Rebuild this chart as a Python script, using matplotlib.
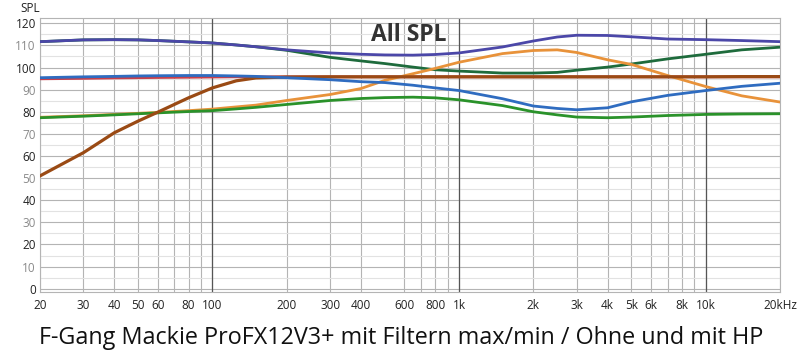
import matplotlib
matplotlib.use("Agg")
import matplotlib.pyplot as plt
from matplotlib.ticker import FixedLocator, NullFormatter

plt.rcParams['font.family'] = ['Open Sans', 'DejaVu Sans']

# frequency points (Hz)
freq = [20, 30, 40, 50, 60, 80, 100, 125, 150, 200, 300, 400, 500, 650, 800,
        1000, 1500, 2000, 2500, 3000, 4000, 5000, 7000, 10000, 14000, 20000]

purple = [111.7, 112.5, 112.6, 112.5, 112.2, 111.6, 111.1, 110.2, 109.4, 108.0, 106.6, 106.0, 105.7,
          105.6, 105.9, 106.6, 109.3, 112.0, 113.8, 114.6, 114.5, 113.9, 112.9, 112.6, 112.2, 111.7]
dark_green = [111.7, 112.5, 112.6, 112.5, 112.2, 111.6, 111.1, 110.2, 109.4, 107.8, 104.6, 103.0, 101.8,
              100.2, 99.0, 98.4, 97.5, 97.5, 97.8, 98.8, 100.2, 101.6, 103.9, 106.0, 108.0, 109.2]
blue = [95.4, 95.8, 96.0, 96.2, 96.3, 96.4, 96.4, 96.2, 96.0, 95.4, 94.5, 93.6, 93.2,
        92.0, 90.8, 89.6, 85.9, 82.6, 81.5, 80.9, 81.8, 84.5, 87.4, 89.6, 91.5, 92.9]
red = [94.9, 95.1, 95.3, 95.4, 95.5, 95.6, 95.7, 95.8, 95.8, 95.8, 95.8, 95.8, 95.8,
       95.8, 95.8, 95.8, 95.8, 95.8, 95.8, 95.8, 95.8, 95.8, 95.8, 95.8, 95.8, 95.8]
brown = [51.0, 61.5, 70.5, 75.8, 79.8, 86.3, 90.8, 94.0, 95.3, 95.7, 95.8, 95.8, 95.8,
         95.8, 95.8, 95.8, 95.8, 95.8, 95.8, 95.8, 95.8, 95.8, 95.8, 95.8, 95.9, 95.9]
orange = [77.5, 78.2, 78.8, 79.3, 79.7, 80.5, 81.2, 82.2, 83.0, 85.1, 87.8, 90.5, 94.2,
          97.2, 99.6, 102.4, 106.3, 107.7, 108.0, 106.8, 103.5, 101.4, 96.4, 91.4, 87.2, 84.4]
light_green = [77.3, 78.0, 78.6, 79.1, 79.5, 80.1, 80.5, 81.3, 82.0, 83.3, 85.1, 86.0, 86.4,
               86.6, 86.3, 85.4, 82.8, 80.0, 78.6, 77.6, 77.3, 77.6, 78.3, 78.8, 79.0, 79.1]

xticks = [20, 30, 40, 50, 60, 80, 100, 200, 300, 400, 600, 800, 1000,
          2000, 3000, 4000, 5000, 6000, 8000, 10000, 20000]
xlabels = ['20', '30', '40', '50', '60', '80', '100', '200', '300', '400', '600', '800', '1k',
           '2k', '3k', '4k', '5k', '6k', '8k', '10k', '20kHz']
xminor = [70, 90, 700, 900, 7000, 9000]
yticks = list(range(0, 121, 10))

fig = plt.figure(figsize=(8, 3.59), dpi=100)
ax = fig.add_axes([40 / 800, 1 - 292 / 359, 740 / 800, 274 / 359])

ax.set_xscale('log')
ax.set_xlim(20, 20000)
ax.set_ylim(-1.5, 122.4)

# grid
ax.xaxis.set_major_locator(FixedLocator(xticks))
ax.xaxis.set_minor_locator(FixedLocator(xminor))
ax.xaxis.set_minor_formatter(NullFormatter())
ax.set_xticklabels(xlabels)
ax.set_yticks(yticks)
ax.yaxis.set_minor_locator(FixedLocator(list(range(5, 121, 10))))
ax.grid(True, which='major', color='#b4b4b4', lw=0.8)
ax.grid(True, which='minor', axis='y', color='#e2e2e2', lw=0.8)
ax.grid(True, which='minor', axis='x', color='#b4b4b4', lw=0.8)
for d in [100, 1000, 10000]:
    ax.axvline(d, color='#555555', lw=0.9, zorder=1)
ax.set_axisbelow(True)
for s in ax.spines.values():
    s.set_color('#b4b4b4')
    s.set_linewidth(0.8)

ax.tick_params(which='both', length=0)
ax.tick_params(axis='x', pad=5, labelsize=8.5, labelcolor='#222222')
ax.tick_params(axis='y', pad=3, labelsize=8.5)
for i, lab in enumerate(ax.get_yticklabels()):
    lab.set_color('#222222' if i % 2 == 0 else '#8a8a8a')

lw = 2.0
ax.plot(freq, red, color='#c8404a', lw=lw, zorder=3)
ax.plot(freq, dark_green, color='#1e6b3c', lw=lw, zorder=3)
ax.plot(freq, purple, color='#4b47a8', lw=lw, zorder=3)
ax.plot(freq, orange, color='#e8923a', lw=lw, zorder=3)
ax.plot(freq, light_green, color='#2a922a', lw=lw, zorder=3)
ax.plot(freq, brown, color='#9a4a14', lw=lw + 0.3, zorder=3)
ax.plot(freq, blue, color='#2f6cc0', lw=lw, zorder=3)

fig.text(409 / 800, 1 - 35 / 359, 'All SPL', ha='center', va='center',
         fontsize=16.5, fontweight='bold', color='#333333', zorder=5)
fig.text(20 / 800, 1 - 9 / 359, 'SPL', ha='left', va='center', fontsize=8.5, color='#222222')
fig.text(401 / 800, 1 - 338 / 359, 'F-Gang Mackie ProFX12V3+ mit Filtern max/min / Ohne und mit HP',
         ha='center', va='center', fontsize=16.8, color='#111111')

fig.savefig('out.png', dpi=100)
